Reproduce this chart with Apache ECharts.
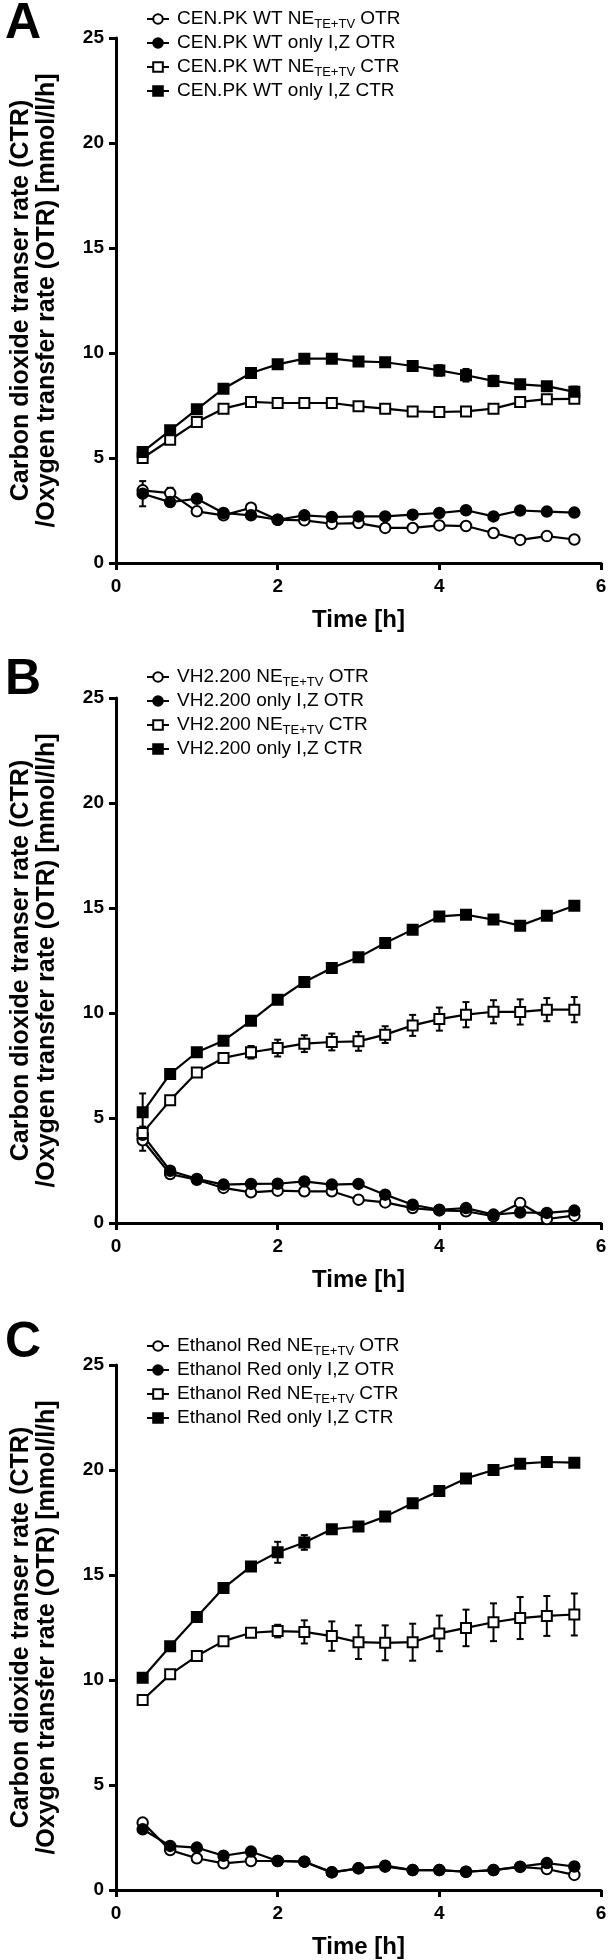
<!DOCTYPE html>
<html>
<head>
<meta charset="utf-8">
<script src="https://cdn.jsdelivr.net/npm/echarts@6/dist/echarts.min.js"></script>
<style>
  html, body { margin: 0; padding: 0; background: #fff; }
  #rate-chart { width: 610px; height: 1960px; }
</style>
</head>
<body>
<div id="rate-chart"></div>
<script>
// sampling times [h]
var time = [0.33, 0.67, 1.0, 1.33, 1.67, 2.0, 2.33, 2.67, 3.0, 3.33, 3.67, 4.0, 4.33, 4.67, 5.0, 5.33, 5.67];

var xTicks = [0, 6, 2];   // min, max, step
var yTicks = [0, 25, 5];

// A - CEN.PK WT
var aNeOtr = [3.46, 3.33, 2.46, 2.27, 2.63, 2.06, 2.03, 1.87, 1.90, 1.67, 1.67, 1.79, 1.76, 1.43, 1.10, 1.28, 1.12];
var aIzOtr = [3.30, 2.90, 3.06, 2.38, 2.27, 2.06, 2.27, 2.19, 2.22, 2.22, 2.30, 2.38, 2.51, 2.22, 2.50, 2.45, 2.40];
var aNeCtr = [5.00, 5.87, 6.71, 7.35, 7.67, 7.62, 7.62, 7.62, 7.46, 7.35, 7.22, 7.19, 7.22, 7.35, 7.67, 7.80, 7.82];
var aIzCtr = [5.29, 6.32, 7.32, 8.30, 9.05, 9.46, 9.73, 9.73, 9.60, 9.56, 9.38, 9.17, 8.94, 8.67, 8.51, 8.42, 8.15];
var aNeOtrErr = [0.15, 0.25, 0, 0, 0, 0, 0, 0, 0, 0, 0, 0, 0, 0, 0, 0, 0];
var aIzOtrErr = [0.6, 0.1, 0.15, 0, 0, 0, 0, 0, 0, 0, 0, 0, 0, 0, 0, 0, 0];
var aNeCtrErr = [0, 0, 0, 0, 0, 0, 0, 0, 0, 0, 0, 0, 0, 0, 0, 0, 0];
var aIzCtrErr = [0, 0, 0, 0, 0, 0, 0, 0, 0, 0, 0.2, 0.25, 0.3, 0.25, 0.2, 0.2, 0.25];

// B - VH2.200
var bNeOtr = [3.94, 2.33, 2.06, 1.67, 1.46, 1.54, 1.51, 1.51, 1.11, 0.98, 0.71, 0.60, 0.56, 0.32, 0.95, 0.19, 0.35];
var bIzOtr = [4.20, 2.49, 2.10, 1.83, 1.86, 1.87, 1.98, 1.83, 1.86, 1.35, 0.87, 0.63, 0.71, 0.40, 0.50, 0.48, 0.59];
var bNeCtr = [4.29, 5.84, 7.17, 7.86, 8.13, 8.33, 8.54, 8.62, 8.65, 8.97, 9.41, 9.71, 9.92, 10.06, 10.05, 10.16, 10.16];
var bIzCtr = [5.27, 7.10, 8.13, 8.68, 9.63, 10.63, 11.48, 12.14, 12.65, 13.33, 13.97, 14.60, 14.68, 14.45, 14.16, 14.63, 15.11];
var bNeOtrErr = [0.5, 0, 0, 0, 0, 0, 0, 0, 0, 0, 0, 0, 0, 0, 0, 0, 0];
var bIzOtrErr = [0, 0, 0, 0, 0, 0, 0, 0, 0, 0, 0, 0, 0, 0, 0, 0, 0];
var bNeCtrErr = [0.3, 0, 0, 0.2, 0.3, 0.4, 0.4, 0.4, 0.45, 0.4, 0.5, 0.55, 0.6, 0.55, 0.6, 0.55, 0.6];
var bIzCtrErr = [0.9, 0, 0, 0, 0, 0, 0, 0, 0, 0, 0, 0, 0, 0, 0, 0, 0];

// C - Ethanol Red
var cNeOtr = [3.21, 1.90, 1.51, 1.27, 1.38, 1.38, 1.35, 0.84, 1.03, 1.16, 0.95, 0.95, 0.87, 0.95, 1.10, 1.00, 0.72];
var cIzOtr = [2.89, 2.10, 2.02, 1.63, 1.83, 1.38, 1.35, 0.84, 1.03, 1.11, 0.95, 0.95, 0.87, 0.95, 1.11, 1.28, 1.12];
var cNeCtr = [9.05, 10.27, 11.14, 11.85, 12.25, 12.33, 12.29, 12.09, 11.80, 11.77, 11.80, 12.22, 12.48, 12.75, 12.95, 13.05, 13.12];
var cIzCtr = [10.11, 11.61, 13.00, 14.38, 15.41, 16.08, 16.55, 17.18, 17.31, 17.78, 18.42, 19.00, 19.60, 20.00, 20.30, 20.38, 20.35];
var cNeOtrErr = [0, 0, 0, 0, 0, 0, 0, 0, 0, 0, 0, 0, 0, 0, 0, 0, 0];
var cIzOtrErr = [0, 0, 0, 0, 0, 0, 0, 0, 0, 0, 0, 0, 0, 0, 0, 0, 0];
var cNeCtrErr = [0, 0, 0, 0.1, 0.2, 0.3, 0.55, 0.7, 0.8, 0.83, 0.88, 0.85, 0.87, 0.9, 1.0, 0.95, 1.0];
var cIzCtrErr = [0, 0, 0, 0, 0.15, 0.5, 0.35, 0.1, 0, 0, 0, 0.1, 0.15, 0.15, 0.1, 0.15, 0];

var panels = [
  { letter: "A", strain: "CEN.PK WT", top: 38, legendTop: 2, letterTop: -1,
    neOtr: aNeOtr, izOtr: aIzOtr, neCtr: aNeCtr, izCtr: aIzCtr,
    err: [aNeOtrErr, aIzOtrErr, aNeCtrErr, aIzCtrErr] },
  { letter: "B", strain: "VH2.200", top: 698, legendTop: 660, letterTop: 655,
    neOtr: bNeOtr, izOtr: bIzOtr, neCtr: bNeCtr, izCtr: bIzCtr,
    err: [bNeOtrErr, bIzOtrErr, bNeCtrErr, bIzCtrErr] },
  { letter: "C", strain: "Ethanol Red", top: 1365, legendTop: 1329, letterTop: 1318,
    neOtr: cNeOtr, izOtr: cIzOtr, neCtr: cNeCtr, izCtr: cIzCtr,
    err: [cNeOtrErr, cIzOtrErr, cNeCtrErr, cIzCtrErr] }
];

var FONT = '"Liberation Sans", Arial, sans-serif';

function drawErrorBar(params, api) {
  var hi = api.coord([api.value(0), api.value(2)]);
  var lo = api.coord([api.value(0), api.value(1)]);
  var cap = 3.5;
  var style = { stroke: "#000", lineWidth: 2 };
  return {
    type: "group",
    children: [
      { type: "line", shape: { x1: hi[0], y1: hi[1], x2: lo[0], y2: lo[1] }, style: style },
      { type: "line", shape: { x1: hi[0] - cap, y1: hi[1], x2: hi[0] + cap, y2: hi[1] }, style: style },
      { type: "line", shape: { x1: lo[0] - cap, y1: lo[1], x2: lo[0] + cap, y2: lo[1] }, style: style }
    ]
  };
}

var option = {
  animation: false,
  backgroundColor: "#fff",
  grid: [],
  xAxis: [],
  yAxis: [],
  legend: [],
  series: [],
  graphic: []
};

panels.forEach(function (p, i) {
  option.grid.push({ left: 116, width: 485, top: p.top, height: 525 });

  option.xAxis.push({
    type: "value",
    gridIndex: i,
    min: xTicks[0], max: xTicks[1], interval: xTicks[2],
    name: "Time [h]",
    nameLocation: "middle",
    nameGap: 45,
    nameTextStyle: { fontSize: 24, fontWeight: "bold", color: "#000", fontFamily: FONT },
    axisLine: { lineStyle: { color: "#000", width: 3 } },
    axisTick: { length: 7, lineStyle: { color: "#000", width: 3 } },
    axisLabel: { fontSize: 19, fontWeight: "bold", color: "#000", margin: 14, fontFamily: FONT },
    splitLine: { show: false }
  });

  option.yAxis.push({
    type: "value",
    gridIndex: i,
    min: yTicks[0], max: yTicks[1], interval: yTicks[2],
    name: "Carbon dioxide transer rate (CTR)\n/Oxygen transfer rate (OTR) [mmol/l/h]",
    nameLocation: "middle",
    nameRotate: 90,
    nameGap: 56,
    nameTextStyle: { fontSize: 25, fontWeight: "bold", color: "#000", lineHeight: 26, fontFamily: FONT },
    axisLine: { lineStyle: { color: "#000", width: 3 } },
    axisTick: { length: 7, lineStyle: { color: "#000", width: 3 } },
    axisLabel: { fontSize: 19, fontWeight: "bold", color: "#000", margin: 12, fontFamily: FONT },
    splitLine: { show: false }
  });

  var defs = [
    { name: p.strain + " NE_TE+TV OTR", vals: p.neOtr, symbol: "circle", size: 10.5, fill: "#fff" },
    { name: p.strain + " only I,Z OTR", vals: p.izOtr, symbol: "circle", size: 10.5, fill: "#000" },
    { name: p.strain + " NE_TE+TV CTR", vals: p.neCtr, symbol: "rect", size: 10, fill: "#fff" },
    { name: p.strain + " only I,Z CTR", vals: p.izCtr, symbol: "rect", size: 10, fill: "#000" }
  ];

  var errData = [];
  defs.forEach(function (d, k) {
    option.series.push({
      type: "line",
      name: d.name,
      xAxisIndex: i,
      yAxisIndex: i,
      data: time.map(function (t, j) { return [t, d.vals[j]]; }),
      symbol: d.symbol,
      symbolSize: d.size,
      showSymbol: true,
      z: 3,
      lineStyle: { color: "#000", width: 2.2 },
      itemStyle: { color: d.fill, borderColor: "#000", borderWidth: 2 },
      emphasis: { disabled: true }
    });
    p.err[k].forEach(function (e, j) {
      if (e > 0) errData.push([time[j], d.vals[j] - e, d.vals[j] + e]);
    });
  });

  option.series.push({
    type: "custom",
    name: p.strain + " error",
    xAxisIndex: i,
    yAxisIndex: i,
    renderItem: drawErrorBar,
    encode: { x: 0, y: [1, 2] },
    data: errData,
    z: 2,
    silent: true
  });

  option.legend.push({
    orient: "vertical",
    left: 141,
    top: p.legendTop,
    itemWidth: 22,
    itemHeight: 12,
    itemGap: 0,
    selectedMode: false,
    data: defs.map(function (d) { return d.name; }),
    formatter: function (name) {
      return name.replace("_TE+TV", "{sub|TE+TV}");
    },
    textStyle: {
      fontSize: 19,
      color: "#000",
      fontFamily: FONT,
      lineHeight: 24,
      padding: [0, 0, 0, 3],
      rich: {
        sub: { fontSize: 13, lineHeight: 12, verticalAlign: "bottom", color: "#000", fontFamily: FONT }
      }
    }
  });

  option.graphic.push({
    type: "text",
    left: 5,
    top: p.letterTop,
    style: { text: p.letter, font: "bold 50px " + FONT, fill: "#000" }
  });
});

var chart = echarts.init(document.getElementById("rate-chart"));
chart.setOption(option);
</script>
</body>
</html>
